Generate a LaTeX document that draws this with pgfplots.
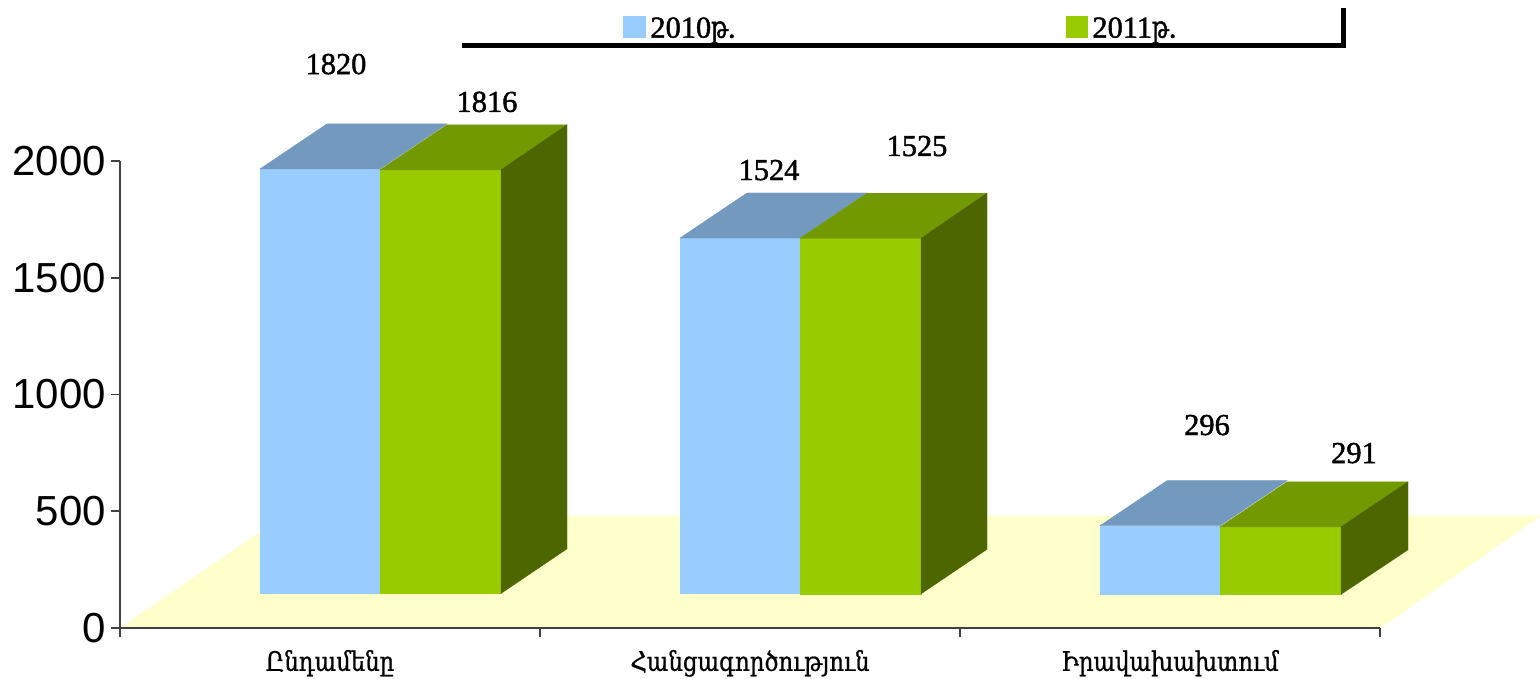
\documentclass[border=0pt]{standalone}
\usepackage{fontspec}
\usepackage{pgfplots}
\pgfplotsset{compat=1.18}
\setmainfont{Liberation Serif}
\newfontfamily\tickfont{Liberation Sans}
\newfontfamily\arm[FakeStretch=0.85,FakeBold=0.8]{DejaVu Serif}
\newfontfamily\numfont[FakeBold=1.5]{Liberation Serif}
\newfontfamily\armleg[FakeStretch=0.7,FakeBold=1.5]{DejaVu Serif}
\definecolor{b1}{HTML}{99CCFF}
\definecolor{b2}{HTML}{7399BF}
\definecolor{g1}{HTML}{99CC00}
\definecolor{g2}{HTML}{739900}
\definecolor{g3}{HTML}{4D6600}
\definecolor{fl}{HTML}{FFFFCC}
\definecolor{ax}{HTML}{404040}
\pgfplotsset{face/.style={draw=#1,line width=0.2pt,fill=#1,mark=none,forget plot}}
\begin{document}
\begin{tikzpicture}
\useasboundingbox (-60pt,-25.5pt) rectangle (710pt,314pt);
\begin{axis}[
  at={(0pt,0pt)},anchor=south west,
  scale only axis,width=630pt,height=233.5pt,
  xmin=120,xmax=1380,ymin=0,ymax=2000,
  clip=false,axis on top,
  axis x line=bottom,axis y line=left,
  axis line style={-,ax,line width=0.8pt},
  tick style={ax,line width=0.8pt},
  tick align=outside,major tick length=4.5pt,
  xtick={120,540,960,1380},
  x tick label as interval,
  xticklabels={{\arm Ընդամենը},{\arm Հանցագործություն},{\arm Իրավախախտում}},
  x tick label style={font=\fontsize{13.4}{15}\selectfont,yshift=-3pt},
  ytick={0,500,1000,1500,2000},
  /pgf/number format/assume math mode=true,
  /pgf/number format/1000 sep={},
  y tick label style={font=\tickfont\fontsize{21}{24}\selectfont,xshift=1pt},
]
% floor
\addplot[face=fl] coordinates {(120,0) (284,480) (1540,480) (1380,0)} --cycle;
% group 1
\addplot[face=b1] coordinates {(260,148) (380,148) (380,1966) (260,1966)} --cycle;
\addplot[face=b2] coordinates {(260,1966) (327,2159) (447,2159) (380,1966)} --cycle;
\addplot[face=g1] coordinates {(380,148) (501,148) (501,1962) (380,1962)} --cycle;
\addplot[face=g2] coordinates {(380,1962) (447,2155) (567,2155) (501,1962)} --cycle;
\addplot[face=g3] coordinates {(501,148) (567,339) (567,2155) (501,1962)} --cycle;
% group 2
\addplot[face=b1] coordinates {(680,148) (800,148) (800,1670) (680,1670)} --cycle;
\addplot[face=b2] coordinates {(680,1670) (747,1863) (867,1863) (800,1670)} --cycle;
\addplot[face=g1] coordinates {(800,146) (921,146) (921,1669) (800,1669)} --cycle;
\addplot[face=g2] coordinates {(800,1669) (867,1862) (987,1862) (921,1669)} --cycle;
\addplot[face=g3] coordinates {(921,146) (987,337) (987,1862) (921,1669)} --cycle;
% group 3
\addplot[face=b1] coordinates {(1100,144) (1220,144) (1220,438) (1100,438)} --cycle;
\addplot[face=b2] coordinates {(1100,438) (1167,631) (1287,631) (1220,438)} --cycle;
\addplot[face=g1] coordinates {(1220,144) (1341,144) (1341,433) (1220,433)} --cycle;
\addplot[face=g2] coordinates {(1220,433) (1287,626) (1408,626) (1341,433)} --cycle;
\addplot[face=g3] coordinates {(1341,144) (1408,335) (1408,626) (1341,433)} --cycle;
% value labels
\addplot[draw=none,mark=none,forget plot,
  point meta=explicit symbolic,
  nodes near coords,
  every node near coord/.style={anchor=center,font=\numfont\fontsize{15.2}{17}\selectfont,text=black,inner sep=0pt}]
  coordinates {(336,2415)[1820] (487,2253)[1816] (769,1961)[1524] (917,2064)[1525] (1207,869)[296] (1354,749)[291]};
% legend rule and swatches
\addplot[black,line width=2.5pt,mark=none,forget plot] coordinates {(462,2493) (1343,2493) (1343,2655)};
\addplot[face=b1] coordinates {(623,2531) (645,2531) (645,2621) (623,2621)} --cycle;
\addplot[face=g1] coordinates {(1066,2531) (1087,2531) (1087,2621) (1066,2621)} --cycle;
\node[anchor=west,inner sep=0pt,font=\numfont\fontsize{15.2}{17}\selectfont] at (axis cs:650,2558) {2010{\armleg թ}.};
\node[anchor=west,inner sep=0pt,font=\numfont\fontsize{15.2}{17}\selectfont] at (axis cs:1092,2558) {2011{\armleg թ}.};
\end{axis}
\end{tikzpicture}
\end{document}
